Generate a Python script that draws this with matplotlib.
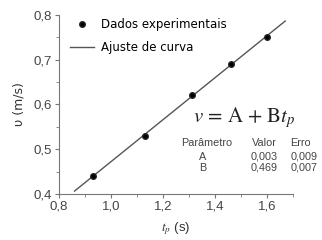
import numpy as np
import matplotlib.pyplot as plt

# data
tp = [0.93, 1.13, 1.31, 1.46, 1.60]
v = [0.44, 0.53, 0.62, 0.69, 0.75]
A, B = 0.003, 0.469
A_err, B_err = 0.009, 0.007
fit_x = [0.86, 1.67]

plt.rcParams["mathtext.fontset"] = "stix"

fig = plt.figure(figsize=(3.22, 2.40), dpi=100)
ax = fig.add_axes([0.183, 0.192, 0.727, 0.746])

fx = np.array(fit_x)
ax.plot(fx, A + B * fx, color="#555555", lw=1.0, label="Ajuste de curva")
ax.plot(tp, v, "o", color="black", ms=4, label="Dados experimentais",
        markeredgecolor="#222222")

ax.set_xlim(0.8, 1.7)
ax.set_ylim(0.4, 0.8)
ax.set_xticks([0.8, 1.0, 1.2, 1.4, 1.6])
ax.set_xticks(np.arange(0.9, 1.71, 0.2), minor=True)
ax.set_yticks([0.4, 0.5, 0.6, 0.7, 0.8])
ax.set_yticks([0.45, 0.55, 0.65, 0.75], minor=True)
ax.set_xticklabels(["0,8", "1,0", "1,2", "1,4", "1,6"], family="Liberation Sans")
ax.set_yticklabels(["0,4", "0,5", "0,6", "0,7", "0,8"], family="Liberation Sans")

for s in ["top", "right"]:
    ax.spines[s].set_visible(False)
for s in ["left", "bottom"]:
    ax.spines[s].set_color("#777777")
ax.tick_params(which="major", length=3, color="#777777", labelsize=9.5,
               labelcolor="#444444", pad=2)
ax.tick_params(which="minor", length=2, color="#777777")

ax.set_ylabel("υ (m/s)", fontsize=9, color="#333333", labelpad=6)
ax.set_xlabel("$t_p$ (s)", fontsize=9.5, color="#333333", labelpad=5,
              family="Liberation Sans")

handles, labels = ax.get_legend_handles_labels()
ax.legend(handles[::-1], labels[::-1], loc="upper left", frameon=False,
          fontsize=8.5, bbox_to_anchor=(0.015, 1.02), handlelength=2.1,
          handletextpad=0.6, borderaxespad=0.2, labelspacing=0.85)

ax.text(0.573, 0.402, r"$v$ = A + B$t_p$", transform=ax.transAxes,
        fontsize=15, color="#222222", va="baseline", family="STIXGeneral")

tcol = "#444444"
fmt = lambda x: f"{x:.3f}".replace(".", ",")
ys = [0.285, 0.207, 0.145]
kw = dict(transform=ax.transAxes, fontsize=7.8, color=tcol, va="center",
          family="Liberation Sans")
ax.text(0.632, ys[0], "Parâmetro", ha="center", **kw)
ax.text(0.876, ys[0], "Valor", ha="center", **kw)
ax.text(1.03, ys[0], "Erro", ha="center", **kw)
for y, p, val, err in [(ys[1], "A", A, A_err), (ys[2], "B", B, B_err)]:
    ax.text(0.615, y, p, ha="center", **kw)
    ax.text(0.936, y, fmt(val), ha="right", **kw)
    ax.text(1.103, y, fmt(err), ha="right", **kw)

fig.savefig("out.png", dpi=100)
